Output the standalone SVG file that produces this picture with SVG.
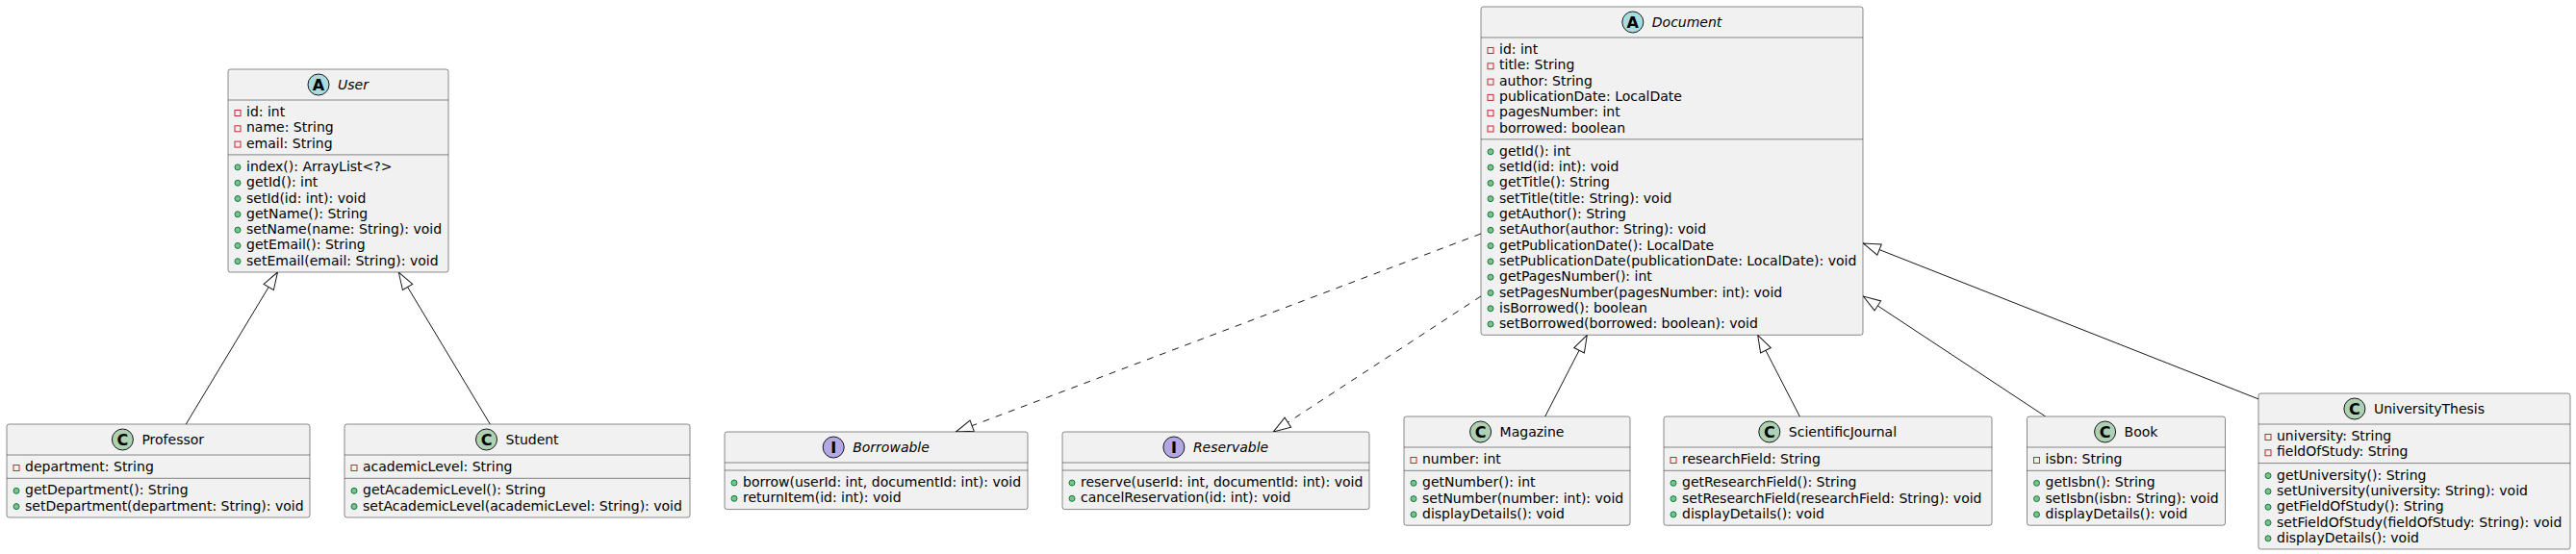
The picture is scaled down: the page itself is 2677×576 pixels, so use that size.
<svg xmlns="http://www.w3.org/2000/svg" width="2677" height="576" viewBox="0 0 2677 576">
<style>
.box{fill:#F1F1F1;stroke:#181818;stroke-width:0.5}
.sep{stroke:#181818;stroke-width:0.5}
.t{font-family:"DejaVu Sans","Liberation Sans",sans-serif;font-size:14px;fill:#000000}
.it{font-style:italic}
.ic{stroke:#181818;stroke-width:1}
.cc{fill:#ADD1B2}
.ca{fill:#A9DCDF}
.ci{fill:#B4A7E5}
.lt{font-family:"DejaVu Sans","Liberation Sans",sans-serif;font-size:16px;font-weight:bold;fill:#000000;text-anchor:middle}
.priv{fill:none;stroke:#C82930;stroke-width:1}
.pub{fill:#84BE84;stroke:#038048;stroke-width:1}
.edge{fill:none;stroke:#181818;stroke-width:1;marker-end:url(#ext)}
.dash{stroke-dasharray:7,7}
</style>
<defs>
<marker id="ext" viewBox="0 0 20 14" refX="19" refY="7" markerWidth="20" markerHeight="14" markerUnits="userSpaceOnUse" orient="auto" overflow="visible">
<path d="M19,7 L1,1 L1,13 Z" fill="#FFFFFF" stroke="#181818" stroke-width="1" stroke-dasharray="none"/>
</marker>
</defs>
<rect x="0" y="0" width="2677" height="576" fill="#FFFFFF"/>

<g id="connectors">
<path class="edge" d="M193.3,441 L288.5,283"/>
<path class="edge" d="M509.3,441 L414.3,283"/>
<path class="edge dash" d="M1539,243 L993.3,449"/>
<path class="edge dash" d="M1539,308 L1323.3,449"/>
<path class="edge" d="M1605.7,433 L1649.3,348.3"/>
<path class="edge" d="M1870.3,433 L1826.7,348.3"/>
<path class="edge" d="M2125.7,433 L1936.3,308"/>
<path class="edge" d="M2347.3,415 L1936.3,253"/>
</g>

<g id="User">
<rect class="box" x="237" y="72" width="229" height="211" rx="2.5" ry="2.5"/>
<circle class="ic ca" cx="331" cy="88" r="11"/>
<text class="lt" x="331" y="93.8">A</text>
<text class="t it" x="351" y="93">User</text>
<line class="sep" x1="237" y1="104" x2="466" y2="104"/>
<line class="sep" x1="237" y1="160.9" x2="466" y2="160.9"/>
<rect class="priv" x="244" y="114.5" width="6" height="6"/><text class="t" x="256" y="121">id: int</text>
<rect class="priv" x="244" y="130.8" width="6" height="6"/><text class="t" x="256" y="137.3">name: String</text>
<rect class="priv" x="244" y="147.1" width="6" height="6"/><text class="t" x="256" y="153.6">email: String</text>
<circle class="pub" cx="247" cy="173.9" r="3"/><text class="t" x="256" y="177.9">index(): ArrayList&lt;?&gt;</text>
<circle class="pub" cx="247" cy="190.2" r="3"/><text class="t" x="256" y="194.2">getId(): int</text>
<circle class="pub" cx="247" cy="206.5" r="3"/><text class="t" x="256" y="210.5">setId(id: int): void</text>
<circle class="pub" cx="247" cy="222.8" r="3"/><text class="t" x="256" y="226.8">getName(): String</text>
<circle class="pub" cx="247" cy="239.1" r="3"/><text class="t" x="256" y="243.1">setName(name: String): void</text>
<circle class="pub" cx="247" cy="255.4" r="3"/><text class="t" x="256" y="259.4">getEmail(): String</text>
<circle class="pub" cx="247" cy="271.7" r="3"/><text class="t" x="256" y="275.7">setEmail(email: String): void</text>
</g>

<g id="Professor">
<rect class="box" x="7" y="441" width="315" height="97" rx="2.5" ry="2.5"/>
<circle class="ic cc" cx="127.4" cy="457" r="11"/>
<text class="lt" x="127.4" y="462.8">C</text>
<text class="t" x="147.4" y="462">Professor</text>
<line class="sep" x1="7" y1="473" x2="322" y2="473"/>
<line class="sep" x1="7" y1="497.3" x2="322" y2="497.3"/>
<rect class="priv" x="14" y="483.5" width="6" height="6"/><text class="t" x="26" y="490">department: String</text>
<circle class="pub" cx="17" cy="510.3" r="3"/><text class="t" x="26" y="514.3">getDepartment(): String</text>
<circle class="pub" cx="17" cy="526.6" r="3"/><text class="t" x="26" y="530.6">setDepartment(department: String): void</text>
</g>

<g id="Student">
<rect class="box" x="358" y="441" width="359" height="97" rx="2.5" ry="2.5"/>
<circle class="ic cc" cx="505.5" cy="457" r="11"/>
<text class="lt" x="505.5" y="462.8">C</text>
<text class="t" x="525.5" y="462">Student</text>
<line class="sep" x1="358" y1="473" x2="717" y2="473"/>
<line class="sep" x1="358" y1="497.3" x2="717" y2="497.3"/>
<rect class="priv" x="365" y="483.5" width="6" height="6"/><text class="t" x="377" y="490">academicLevel: String</text>
<circle class="pub" cx="368" cy="510.3" r="3"/><text class="t" x="377" y="514.3">getAcademicLevel(): String</text>
<circle class="pub" cx="368" cy="526.6" r="3"/><text class="t" x="377" y="530.6">setAcademicLevel(academicLevel: String): void</text>
</g>

<g id="Borrowable">
<rect class="box" x="753" y="449" width="315" height="80.6" rx="2.5" ry="2.5"/>
<circle class="ic ci" cx="866.2" cy="465" r="11"/>
<text class="lt" x="866.2" y="470.8">I</text>
<text class="t it" x="886.2" y="470">Borrowable</text>
<line class="sep" x1="753" y1="481" x2="1068" y2="481"/>
<line class="sep" x1="753" y1="489" x2="1068" y2="489"/>
<circle class="pub" cx="763" cy="502" r="3"/><text class="t" x="772" y="506">borrow(userId: int, documentId: int): void</text>
<circle class="pub" cx="763" cy="518.3" r="3"/><text class="t" x="772" y="522.3">returnItem(id: int): void</text>
</g>

<g id="Reservable">
<rect class="box" x="1104" y="449" width="319" height="80.6" rx="2.5" ry="2.5"/>
<circle class="ic ci" cx="1219.9" cy="465" r="11"/>
<text class="lt" x="1219.9" y="470.8">I</text>
<text class="t it" x="1239.9" y="470">Reservable</text>
<line class="sep" x1="1104" y1="481" x2="1423" y2="481"/>
<line class="sep" x1="1104" y1="489" x2="1423" y2="489"/>
<circle class="pub" cx="1114" cy="502" r="3"/><text class="t" x="1123" y="506">reserve(userId: int, documentId: int): void</text>
<circle class="pub" cx="1114" cy="518.3" r="3"/><text class="t" x="1123" y="522.3">cancelReservation(id: int): void</text>
</g>

<g id="Document">
<rect class="box" x="1539" y="7" width="397" height="341.3" rx="2.5" ry="2.5"/>
<circle class="ic ca" cx="1696.8" cy="23" r="11"/>
<text class="lt" x="1696.8" y="28.8">A</text>
<text class="t it" x="1716.8" y="28">Document</text>
<line class="sep" x1="1539" y1="39" x2="1936" y2="39"/>
<line class="sep" x1="1539" y1="144.8" x2="1936" y2="144.8"/>
<rect class="priv" x="1546" y="49.5" width="6" height="6"/><text class="t" x="1558" y="56">id: int</text>
<rect class="priv" x="1546" y="65.8" width="6" height="6"/><text class="t" x="1558" y="72.3">title: String</text>
<rect class="priv" x="1546" y="82.1" width="6" height="6"/><text class="t" x="1558" y="88.6">author: String</text>
<rect class="priv" x="1546" y="98.4" width="6" height="6"/><text class="t" x="1558" y="104.9">publicationDate: LocalDate</text>
<rect class="priv" x="1546" y="114.7" width="6" height="6"/><text class="t" x="1558" y="121.2">pagesNumber: int</text>
<rect class="priv" x="1546" y="131" width="6" height="6"/><text class="t" x="1558" y="137.5">borrowed: boolean</text>
<circle class="pub" cx="1549" cy="157.8" r="3"/><text class="t" x="1558" y="161.8">getId(): int</text>
<circle class="pub" cx="1549" cy="174.1" r="3"/><text class="t" x="1558" y="178.1">setId(id: int): void</text>
<circle class="pub" cx="1549" cy="190.4" r="3"/><text class="t" x="1558" y="194.4">getTitle(): String</text>
<circle class="pub" cx="1549" cy="206.7" r="3"/><text class="t" x="1558" y="210.7">setTitle(title: String): void</text>
<circle class="pub" cx="1549" cy="223" r="3"/><text class="t" x="1558" y="227">getAuthor(): String</text>
<circle class="pub" cx="1549" cy="239.3" r="3"/><text class="t" x="1558" y="243.3">setAuthor(author: String): void</text>
<circle class="pub" cx="1549" cy="255.6" r="3"/><text class="t" x="1558" y="259.6">getPublicationDate(): LocalDate</text>
<circle class="pub" cx="1549" cy="271.9" r="3"/><text class="t" x="1558" y="275.9">setPublicationDate(publicationDate: LocalDate): void</text>
<circle class="pub" cx="1549" cy="288.2" r="3"/><text class="t" x="1558" y="292.2">getPagesNumber(): int</text>
<circle class="pub" cx="1549" cy="304.5" r="3"/><text class="t" x="1558" y="308.5">setPagesNumber(pagesNumber: int): void</text>
<circle class="pub" cx="1549" cy="320.8" r="3"/><text class="t" x="1558" y="324.8">isBorrowed(): boolean</text>
<circle class="pub" cx="1549" cy="337" r="3"/><text class="t" x="1558" y="341">setBorrowed(borrowed: boolean): void</text>
</g>

<g id="Magazine">
<rect class="box" x="1459" y="433" width="235" height="113.2" rx="2.5" ry="2.5"/>
<circle class="ic cc" cx="1538.6" cy="449" r="11"/>
<text class="lt" x="1538.6" y="454.8">C</text>
<text class="t" x="1558.6" y="454">Magazine</text>
<line class="sep" x1="1459" y1="465" x2="1694" y2="465"/>
<line class="sep" x1="1459" y1="489.3" x2="1694" y2="489.3"/>
<rect class="priv" x="1466" y="475.5" width="6" height="6"/><text class="t" x="1478" y="482">number: int</text>
<circle class="pub" cx="1469" cy="502.3" r="3"/><text class="t" x="1478" y="506.3">getNumber(): int</text>
<circle class="pub" cx="1469" cy="518.6" r="3"/><text class="t" x="1478" y="522.6">setNumber(number: int): void</text>
<circle class="pub" cx="1469" cy="534.9" r="3"/><text class="t" x="1478" y="538.9">displayDetails(): void</text>
</g>

<g id="ScientificJournal">
<rect class="box" x="1729" y="433" width="341" height="113.2" rx="2.5" ry="2.5"/>
<circle class="ic cc" cx="1838.8" cy="449" r="11"/>
<text class="lt" x="1838.8" y="454.8">C</text>
<text class="t" x="1858.8" y="454">ScientificJournal</text>
<line class="sep" x1="1729" y1="465" x2="2070" y2="465"/>
<line class="sep" x1="1729" y1="489.3" x2="2070" y2="489.3"/>
<rect class="priv" x="1736" y="475.5" width="6" height="6"/><text class="t" x="1748" y="482">researchField: String</text>
<circle class="pub" cx="1739" cy="502.3" r="3"/><text class="t" x="1748" y="506.3">getResearchField(): String</text>
<circle class="pub" cx="1739" cy="518.6" r="3"/><text class="t" x="1748" y="522.6">setResearchField(researchField: String): void</text>
<circle class="pub" cx="1739" cy="534.9" r="3"/><text class="t" x="1748" y="538.9">displayDetails(): void</text>
</g>

<g id="Book">
<rect class="box" x="2106.5" y="433" width="206" height="113.2" rx="2.5" ry="2.5"/>
<circle class="ic cc" cx="2187.6" cy="449" r="11"/>
<text class="lt" x="2187.6" y="454.8">C</text>
<text class="t" x="2207.6" y="454">Book</text>
<line class="sep" x1="2106.5" y1="465" x2="2312.5" y2="465"/>
<line class="sep" x1="2106.5" y1="489.3" x2="2312.5" y2="489.3"/>
<rect class="priv" x="2113.5" y="475.5" width="6" height="6"/><text class="t" x="2125.5" y="482">isbn: String</text>
<circle class="pub" cx="2116.5" cy="502.3" r="3"/><text class="t" x="2125.5" y="506.3">getIsbn(): String</text>
<circle class="pub" cx="2116.5" cy="518.6" r="3"/><text class="t" x="2125.5" y="522.6">setIsbn(isbn: String): void</text>
<circle class="pub" cx="2116.5" cy="534.9" r="3"/><text class="t" x="2125.5" y="538.9">displayDetails(): void</text>
</g>

<g id="UniversityThesis">
<rect class="box" x="2347" y="409" width="324" height="162" rx="2.5" ry="2.5"/>
<circle class="ic cc" cx="2446.9" cy="425" r="11"/>
<text class="lt" x="2446.9" y="430.8">C</text>
<text class="t" x="2466.9" y="430">UniversityThesis</text>
<line class="sep" x1="2347" y1="441" x2="2671" y2="441"/>
<line class="sep" x1="2347" y1="481.6" x2="2671" y2="481.6"/>
<rect class="priv" x="2354" y="451.5" width="6" height="6"/><text class="t" x="2366" y="458">university: String</text>
<rect class="priv" x="2354" y="467.8" width="6" height="6"/><text class="t" x="2366" y="474.3">fieldOfStudy: String</text>
<circle class="pub" cx="2357" cy="494.6" r="3"/><text class="t" x="2366" y="498.6">getUniversity(): String</text>
<circle class="pub" cx="2357" cy="510.9" r="3"/><text class="t" x="2366" y="514.9">setUniversity(university: String): void</text>
<circle class="pub" cx="2357" cy="527.2" r="3"/><text class="t" x="2366" y="531.2">getFieldOfStudy(): String</text>
<circle class="pub" cx="2357" cy="543.5" r="3"/><text class="t" x="2366" y="547.5">setFieldOfStudy(fieldOfStudy: String): void</text>
<circle class="pub" cx="2357" cy="559.8" r="3"/><text class="t" x="2366" y="563.8">displayDetails(): void</text>
</g>
</svg>
